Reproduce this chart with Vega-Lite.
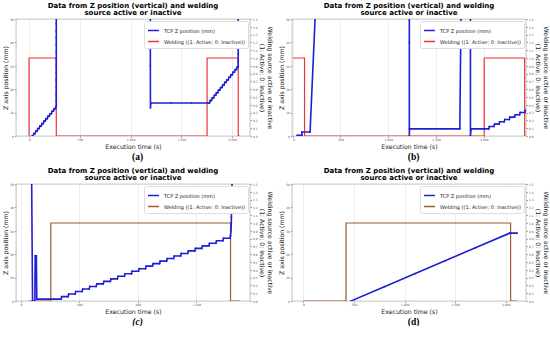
{
"$schema": "https://vega.github.io/schema/vega-lite/v6.json",
"padding": {"left": 1, "top": 1, "right": 0, "bottom": 0},
"config": {
 "font": "DejaVu Sans",
 "view": {"stroke": "#999", "strokeWidth": 0.6},
 "axis": {"labelFontSize": 3, "labelColor": "#555", "titleFontSize": 6.2, "titleFontWeight": "normal", "titleColor": "#222", "tickSize": 1.5, "tickColor": "#999", "labelPadding": 1, "titlePadding": 1.5, "domain": false, "gridColor": "#e2e2e2", "gridWidth": 0.6},
 "title": {"fontSize": 7, "fontWeight": "bold", "lineHeight": 7.3, "offset": 2, "color": "#000"},
 "legend": {"orient": "top-right", "title": null, "labelFontSize": 5, "symbolType": "stroke", "symbolStrokeWidth": 1.5, "symbolSize": 120, "fillColor": "white", "strokeColor": "#ddd", "padding": 3, "rowPadding": 1, "offset": 2, "labelLimit": 200, "cornerRadius": 2, "labelColor": "#222"},
 "line": {"clip": true}
},
"datasets": {
 "a_z": [{"t":26,"v":0},{"t":40,"v":0},{"t":46,"v":1.06},{"t":60,"v":1.06},{"t":66,"v":2.12},{"t":80,"v":2.12},{"t":86,"v":3.18},{"t":100,"v":3.18},{"t":106,"v":4.24},{"t":120,"v":4.24},{"t":126,"v":5.3},{"t":140,"v":5.3},{"t":146,"v":6.36},{"t":160,"v":6.36},{"t":166,"v":7.42},{"t":180,"v":7.42},{"t":186,"v":8.48},{"t":200,"v":8.48},{"t":206,"v":9.54},{"t":220,"v":9.54},{"t":226,"v":10.6},{"t":240,"v":10.6},{"t":246,"v":11.66},{"t":260,"v":11.66},{"t":266,"v":12.7},{"t":268,"v":12.7},
  {"t":268,"v":15},{"t":268,"v":18},{"t":268,"v":21},{"t":268,"v":24},{"t":268,"v":27},{"t":268,"v":30},{"t":268,"v":33},{"t":268,"v":36},{"t":268,"v":39},{"t":268,"v":42},{"t":268,"v":45},{"t":268,"v":48},{"t":269,"v":80},
  {"t":1195,"v":80},{"t":1195,"v":43.7},{"t":1195,"v":30},{"t":1196,"v":12.0},{"t":1200,"v":14.1},{"t":1400,"v":14.1},{"t":1600,"v":14.1},
  {"t":1764,"v":14.1},{"t":1778,"v":14.1},{"t":1784.5,"v":15.2},{"t":1798.5,"v":15.2},{"t":1805,"v":16.3},{"t":1819,"v":16.3},{"t":1825.5,"v":17.4},{"t":1839.5,"v":17.4},{"t":1846,"v":18.5},{"t":1860,"v":18.5},{"t":1866.5,"v":19.6},{"t":1880.5,"v":19.6},{"t":1887,"v":20.7},{"t":1901,"v":20.7},{"t":1907.5,"v":21.8},{"t":1921.5,"v":21.8},{"t":1928,"v":22.9},{"t":1942,"v":22.9},{"t":1948.5,"v":24.0},{"t":1962.5,"v":24.0},{"t":1969,"v":25.1},{"t":1983,"v":25.1},{"t":1989.5,"v":26.2},{"t":2003.5,"v":26.2},{"t":2010,"v":27.3},{"t":2024,"v":27.3},{"t":2030.5,"v":28.4},{"t":2044.5,"v":28.4},{"t":2051,"v":29.5},{"t":2061,"v":29.5},
  {"t":2061,"v":32},{"t":2061,"v":35},{"t":2061,"v":38},{"t":2061,"v":41},{"t":2061,"v":44},{"t":2061,"v":47},{"t":2062,"v":80}],
 "a_w": [{"t":0,"v":0},{"t":0,"v":1},{"t":268,"v":1},{"t":268,"v":0},{"t":1754,"v":0},{"t":1754,"v":1},{"t":2061,"v":1},{"t":2061,"v":0},{"t":2077,"v":0}],
 "b_z": [{"t":45,"v":0.3},{"t":96,"v":0.3},{"t":96,"v":1.7},{"t":182,"v":1.7},{"t":245,"v":60},{"t":1220,"v":80},{"t":1220,"v":40},{"t":1220,"v":0},{"t":1222,"v":3.06},{"t":1400,"v":3.06},{"t":1600,"v":3.06},{"t":1748,"v":3.06},{"t":1762,"v":60},{"t":1859,"v":80},{"t":1859,"v":40},{"t":1859,"v":0},{"t":1866,"v":3.06},
  {"t":2003,"v":3.06},{"t":2051,"v":3.06},{"t":2057,"v":4.06},{"t":2105,"v":4.06},{"t":2111,"v":5.06},{"t":2158,"v":5.06},{"t":2164,"v":6.06},{"t":2212,"v":6.06},{"t":2218,"v":7.06},{"t":2266,"v":7.06},{"t":2272,"v":8.06},{"t":2320,"v":8.06},{"t":2326,"v":9.06},{"t":2373,"v":9.06},{"t":2379,"v":10.06},{"t":2427,"v":10.06},{"t":2433,"v":11.06}],
 "b_w": [{"t":0,"v":1},{"t":124,"v":1},{"t":124,"v":0},{"t":2003,"v":0},{"t":2003,"v":1},{"t":2426,"v":1},{"t":2426,"v":0},{"t":2432,"v":0}],
 "c_z": [{"t":73,"v":60},{"t":80,"v":0},{"t":96,"v":0},{"t":98,"v":19.3},{"t":106,"v":19.3},{"t":109,"v":0.8},
  {"t":231,"v":0.8},{"t":275,"v":0.8},{"t":279,"v":1.88},{"t":323,"v":1.88},{"t":327,"v":2.97},{"t":371,"v":2.97},{"t":375,"v":4.05},{"t":419,"v":4.05},{"t":423,"v":5.14},{"t":467,"v":5.14},{"t":471,"v":6.22},{"t":515,"v":6.22},{"t":519,"v":7.30},{"t":563,"v":7.30},{"t":568,"v":8.39},{"t":612,"v":8.39},{"t":616,"v":9.47},{"t":660,"v":9.47},{"t":664,"v":10.56},{"t":708,"v":10.56},{"t":712,"v":11.64},{"t":756,"v":11.64},{"t":760,"v":12.72},{"t":804,"v":12.72},{"t":808,"v":13.81},{"t":852,"v":13.81},{"t":856,"v":14.89},{"t":900,"v":14.89},{"t":904,"v":15.98},{"t":948,"v":15.98},{"t":952,"v":17.06},{"t":996,"v":17.06},{"t":1000,"v":18.14},{"t":1044,"v":18.14},{"t":1048,"v":19.23},{"t":1092,"v":19.23},{"t":1096,"v":20.31},{"t":1140,"v":20.31},{"t":1145,"v":21.40},{"t":1189,"v":21.40},{"t":1193,"v":22.48},{"t":1237,"v":22.48},{"t":1241,"v":23.56},{"t":1285,"v":23.56},{"t":1289,"v":24.65},{"t":1333,"v":24.65},{"t":1337,"v":25.73},{"t":1381,"v":25.73},{"t":1385,"v":26.82},{"t":1429,"v":26.82},{"t":1433,"v":27.90},
  {"t":1436,"v":30},{"t":1438,"v":33},{"t":1439,"v":36},{"t":1440,"v":39},{"t":1441,"v":42},{"t":1442,"v":45},{"t":1443,"v":48},{"t":1444,"v":60}],
 "c_w": [{"t":55,"v":0},{"t":205,"v":0},{"t":205,"v":1},{"t":1433,"v":1},{"t":1433,"v":0},{"t":1499,"v":0}],
 "d_z": [{"t":450,"v":-2},{"t":469,"v":0},{"t":800,"v":6.11},{"t":1100,"v":11.65},{"t":1400,"v":17.2},{"t":1700,"v":22.74},{"t":2039,"v":29.0},{"t":2052,"v":29.0},{"t":2113,"v":29.0}],
 "d_w": [{"t":0,"v":0},{"t":421,"v":0},{"t":421,"v":1},{"t":2048,"v":1},{"t":2048,"v":0},{"t":2113,"v":0}]
},
"spacing": 5,
"vconcat": [
 {"spacing": 3,
  "hconcat": [
  {"title": {"text": "(a)", "orient": "bottom", "anchor": "middle", "font": "Liberation Serif", "fontSize": 9.5, "fontWeight": "bold", "offset": 2},
   "vconcat": [{
    "title": {"text": ["Data from Z position (vertical) and welding", "source active or inactive"]},
    "width": 234, "height": 117,
    "layer": [
     {"data": {"name": "a_w"}, "mark": {"type": "line", "clip": true, "strokeWidth": 1.2},
      "encoding": {
       "x": {"field": "t", "type": "quantitative", "scale": {"domain": [-129, 2177], "nice": false, "zero": false}, "axis": {"title": "Execution time (s)", "values": [0, 500, 1000, 1500, 2000]}},
       "y": {"field": "v", "type": "quantitative", "scale": {"domain": [0, 1.5], "nice": false}, "axis": {"orient": "right", "grid": false, "title": ["Welding source active or inactive", "(1: Active; 0: Inactive)"], "values": [0,0.1,0.2,0.3,0.4,0.5,0.6,0.7,0.8,0.9,1.0,1.1,1.2,1.3,1.4,1.5], "format": ".1f"}},
       "color": {"datum": "Welding ((1: Active; 0: Inactive))", "scale": {"domain": ["TCP Z position (mm)", "Welding ((1: Active; 0: Inactive))"], "range": ["#1f1fd6", "#ee3333"]}},
       "order": {"value": null}}},
     {"data": {"name": "a_z"}, "mark": {"type": "line", "clip": true, "strokeWidth": 1.6, "point": {"size": 3, "filled": true}},
      "encoding": {
       "x": {"field": "t", "type": "quantitative"},
       "y": {"field": "v", "type": "quantitative", "scale": {"domain": [0, 50], "nice": false}, "axis": {"orient": "left", "title": "Z axis position (mm)", "values": [0, 10, 20, 30, 40, 50]}},
       "color": {"datum": "TCP Z position (mm)"},
       "order": {"value": null}}}
    ],
    "resolve": {"scale": {"y": "independent"}}
   }],
   "resolve": {"scale": {"color": "independent"}, "legend": {"color": "independent"}}
  },
  {"title": {"text": "(b)", "orient": "bottom", "anchor": "middle", "font": "Liberation Serif", "fontSize": 9.5, "fontWeight": "bold", "offset": 2},
   "vconcat": [{
    "title": {"text": ["Data from Z position (vertical) and welding", "source active or inactive"]},
    "width": 234, "height": 117,
    "layer": [
     {"data": {"name": "b_w"}, "mark": {"type": "line", "clip": true, "strokeWidth": 1.2},
      "encoding": {
       "x": {"field": "t", "type": "quantitative", "scale": {"domain": [-7, 2440], "nice": false, "zero": false}, "axis": {"title": "Execution time (s)", "values": [0, 500, 1000, 1500, 2000]}},
       "y": {"field": "v", "type": "quantitative", "scale": {"domain": [0, 1.5], "nice": false}, "axis": {"orient": "right", "grid": false, "title": ["Welding source active or inactive", "(1: Active; 0: Inactive)"], "values": [0,0.1,0.2,0.3,0.4,0.5,0.6,0.7,0.8,0.9,1.0,1.1,1.2,1.3,1.4,1.5], "format": ".1f"}},
       "color": {"datum": "Welding ((1: Active; 0: Inactive))", "scale": {"domain": ["TCP Z position (mm)", "Welding ((1: Active; 0: Inactive))"], "range": ["#1f1fd6", "#ee3333"]}},
       "order": {"value": null}}},
     {"data": {"name": "b_z"}, "mark": {"type": "line", "clip": true, "strokeWidth": 1.6, "point": {"size": 3, "filled": true}},
      "encoding": {
       "x": {"field": "t", "type": "quantitative"},
       "y": {"field": "v", "type": "quantitative", "scale": {"domain": [0, 50], "nice": false}, "axis": {"orient": "left", "title": "Z axis position (mm)", "values": [0, 10, 20, 30, 40, 50]}},
       "color": {"datum": "TCP Z position (mm)"},
       "order": {"value": null}}}
    ],
    "resolve": {"scale": {"y": "independent"}}
   }],
   "resolve": {"scale": {"color": "independent"}, "legend": {"color": "independent"}}
  }
 ],
 "resolve": {"scale": {"color": "independent"}, "legend": {"color": "independent"}}
 },
 {"spacing": 3,
  "hconcat": [
  {"title": {"text": "(c)", "orient": "bottom", "anchor": "middle", "font": "Liberation Serif", "fontSize": 9.5, "fontWeight": "bold", "fontStyle": "italic", "offset": 2},
   "vconcat": [{
    "title": {"text": ["Data from Z position (vertical) and welding", "source active or inactive"]},
    "width": 234, "height": 117,
    "layer": [
     {"data": {"name": "c_w"}, "mark": {"type": "line", "clip": true, "strokeWidth": 1.2},
      "encoding": {
       "x": {"field": "t", "type": "quantitative", "scale": {"domain": [-33, 1566], "nice": false, "zero": false}, "axis": {"title": "Execution time (s)", "values": [0, 200, 400, 600, 800, 1000, 1200, 1400]}},
       "y": {"field": "v", "type": "quantitative", "scale": {"domain": [0, 1.5], "nice": false}, "axis": {"orient": "right", "grid": false, "title": ["Welding source active or inactive", "(1: Active; 0: Inactive)"], "values": [0,0.1,0.2,0.3,0.4,0.5,0.6,0.7,0.8,0.9,1.0,1.1,1.2,1.3,1.4,1.5], "format": ".1f"}},
       "color": {"datum": "Welding ((1: Active; 0: Inactive))", "scale": {"domain": ["TCP Z position (mm)", "Welding ((1: Active; 0: Inactive))"], "range": ["#1f1fd6", "#a05a2c"]}},
       "order": {"value": null}}},
     {"data": {"name": "c_z"}, "mark": {"type": "line", "clip": true, "strokeWidth": 1.6, "point": {"size": 3, "filled": true}},
      "encoding": {
       "x": {"field": "t", "type": "quantitative"},
       "y": {"field": "v", "type": "quantitative", "scale": {"domain": [0, 50], "nice": false}, "axis": {"orient": "left", "title": "Z axis position (mm)", "values": [0, 10, 20, 30, 40, 50]}},
       "color": {"datum": "TCP Z position (mm)"},
       "order": {"value": null}}}
    ],
    "resolve": {"scale": {"y": "independent"}}
   }],
   "resolve": {"scale": {"color": "independent"}, "legend": {"color": "independent"}}
  },
  {"title": {"text": "(d)", "orient": "bottom", "anchor": "middle", "font": "Liberation Serif", "fontSize": 9.5, "fontWeight": "bold", "offset": 2},
   "vconcat": [{
    "title": {"text": ["Data from Z position (vertical) and welding", "source active or inactive"]},
    "width": 234, "height": 117,
    "layer": [
     {"data": {"name": "d_w"}, "mark": {"type": "line", "clip": true, "strokeWidth": 1.2},
      "encoding": {
       "x": {"field": "t", "type": "quantitative", "scale": {"domain": [-113, 2200], "nice": false, "zero": false}, "axis": {"title": "Execution time (s)", "values": [0, 500, 1000, 1500, 2000]}},
       "y": {"field": "v", "type": "quantitative", "scale": {"domain": [0, 1.5], "nice": false}, "axis": {"orient": "right", "grid": false, "title": ["Welding source active or inactive", "(1: Active; 0: Inactive)"], "values": [0,0.1,0.2,0.3,0.4,0.5,0.6,0.7,0.8,0.9,1.0,1.1,1.2,1.3,1.4,1.5], "format": ".1f"}},
       "color": {"datum": "Welding ((1: Active; 0: Inactive))", "scale": {"domain": ["TCP Z position (mm)", "Welding ((1: Active; 0: Inactive))"], "range": ["#1f1fd6", "#a05a2c"]}},
       "order": {"value": null}}},
     {"data": {"name": "d_z"}, "mark": {"type": "line", "clip": true, "strokeWidth": 1.6, "point": {"size": 3, "filled": true}},
      "encoding": {
       "x": {"field": "t", "type": "quantitative"},
       "y": {"field": "v", "type": "quantitative", "scale": {"domain": [0, 50], "nice": false}, "axis": {"orient": "left", "title": "Z axis position (mm)", "values": [0, 10, 20, 30, 40, 50]}},
       "color": {"datum": "TCP Z position (mm)"},
       "order": {"value": null}}}
    ],
    "resolve": {"scale": {"y": "independent"}}
   }],
   "resolve": {"scale": {"color": "independent"}, "legend": {"color": "independent"}}
  }
 ],
 "resolve": {"scale": {"color": "independent"}, "legend": {"color": "independent"}}
 }
],
"resolve": {"scale": {"color": "independent"}, "legend": {"color": "independent"}}
}
